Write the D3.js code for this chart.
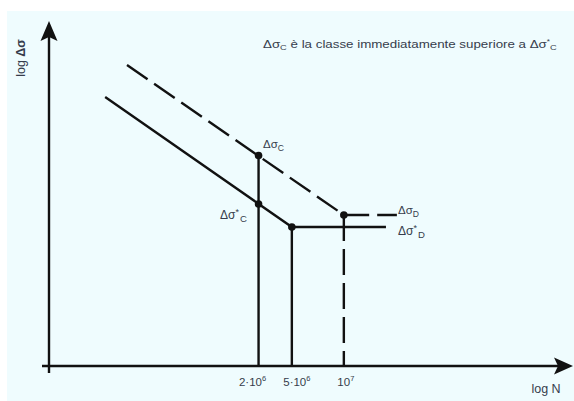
<!DOCTYPE html>
<html><head><meta charset="utf-8">
<script src="https://cdn.jsdelivr.net/npm/d3@7"></script>
<style>html,body{margin:0;padding:0;background:#fff;}svg{display:block;}</style>
</head><body>
<svg id="c" width="574" height="401"></svg>
<script>
// schematic units (log N on x, log Δσ on y), 0..100
const curveSolid = [[10.8,78.2],[46.7,40.4],[64.8,40.4]];      // Δσ*C curve
const curveDashed = [[15,87.5],[56.7,43.9],[66.9,43.9]];       // ΔσC curve
const points = [[40.3,61.2],[40.3,47.1],[46.7,40.4],[56.7,43.9]];
const verticalsSolid = [[40.3,61.2],[46.7,40.4]];
const verticalsDashed = [[56.7,43.9]];
const tickValues = [40.3,46.7,56.7];
const tickLabels = [["2·10","6"],["5·10","6"],["10","7"]];

const svg = d3.select("#c");
const x = d3.scaleLinear().domain([0,100]).range([49,569]);
const y = d3.scaleLinear().domain([0,100]).range([366,22]);
const ink = "#111", txt = "#363c4c";
const sw = 2.4;

svg.append("rect").attr("x",7).attr("y",11).attr("width",567).attr("height",390).attr("fill","#effcfe");

// axes
svg.append("line").attr("x1",42).attr("x2",560).attr("y1",y(0)).attr("y2",y(0)).attr("stroke",ink).attr("stroke-width",sw);
svg.append("line").attr("x1",x(0)).attr("x2",x(0)).attr("y1",373).attr("y2",35).attr("stroke",ink).attr("stroke-width",sw);
svg.append("path").attr("d",`M573,${y(0)} L554,${y(0)-8.5} L558,${y(0)} L554,${y(0)+8.5} Z`).attr("fill",ink);
svg.append("path").attr("d",`M${x(0)},21 L${x(0)-8.5},41 L${x(0)},37 L${x(0)+8.5},41 Z`).attr("fill",ink);

const line = d3.line().x(d=>x(d[0])).y(d=>y(d[1]));
svg.append("path").attr("d",line(curveSolid)).attr("fill","none").attr("stroke",ink).attr("stroke-width",sw);
svg.append("path").attr("d",line(curveDashed)).attr("fill","none").attr("stroke",ink).attr("stroke-width",sw).attr("stroke-dasharray","25,8");

verticalsSolid.forEach(d=>svg.append("line").attr("x1",x(d[0])).attr("x2",x(d[0])).attr("y1",y(d[1])).attr("y2",y(0)).attr("stroke",ink).attr("stroke-width",sw));
verticalsDashed.forEach(d=>svg.append("line").attr("x1",x(d[0])).attr("x2",x(d[0])).attr("y1",y(d[1])).attr("y2",y(0)).attr("stroke",ink).attr("stroke-width",sw).attr("stroke-dasharray","26,8"));

svg.selectAll("circle.p").data(points).enter().append("circle").attr("cx",d=>x(d[0])).attr("cy",d=>y(d[1])).attr("r",3.8).attr("fill",ink);

// tick labels
const f = "Arial, 'Liberation Sans', sans-serif";
const tickShift = [-6, 5, 2];
tickValues.forEach((v,i)=>{
  const t = svg.append("text").attr("x",x(v)+tickShift[i]).attr("y",386).attr("text-anchor","middle").attr("font-family",f).attr("font-size",11.5).attr("fill",txt);
  t.append("tspan").text(tickLabels[i][0]);
  t.append("tspan").attr("dy",-5).attr("font-size",7.5).text(tickLabels[i][1]);
});
svg.append("text").attr("x",546).attr("y",393).attr("text-anchor","middle").attr("font-family",f).attr("font-size",12.5).attr("fill",txt).text("log N");
const yl = svg.append("text").attr("transform","translate(25,58) rotate(-90)").attr("text-anchor","middle").attr("font-family",f).attr("font-size",12.5).attr("fill",txt);
yl.append("tspan").text("log ");
yl.append("tspan").attr("font-weight","bold").text("Δσ");

function sigLabel(px,py,star,sub,size){
  const t = svg.append("text").attr("x",px).attr("y",py).attr("font-family",f).attr("font-size",size).attr("fill",txt);
  t.append("tspan").text("Δσ");
  if(star){ t.append("tspan").attr("dy",-4).attr("font-size",size*0.75).text("*"); t.append("tspan").attr("dy",7).attr("dx",1).attr("font-size",size*0.8).text(sub); }
  else t.append("tspan").attr("dy",3).attr("font-size",size*0.75).text(sub);
  return t;
}
sigLabel(263,148,false,"C",11.5);
sigLabel(220,219,true,"C",12);
sigLabel(398,214,false,"D",11.5);
sigLabel(398,235,true,"D",12);

const note = svg.append("text").attr("transform","translate(263,48) scale(1.16,1)").attr("font-family",f).attr("font-size",11.5).attr("fill",txt);
note.append("tspan").text("Δσ");
note.append("tspan").attr("dy",2).attr("font-size",8).text("C");
note.append("tspan").attr("dy",-2).text(" è la classe immediatamente superiore a Δσ");
note.append("tspan").attr("dy",-4).attr("font-size",7).text("*");
note.append("tspan").attr("dy",6).attr("font-size",8).text("C");
</script>
</body></html>
